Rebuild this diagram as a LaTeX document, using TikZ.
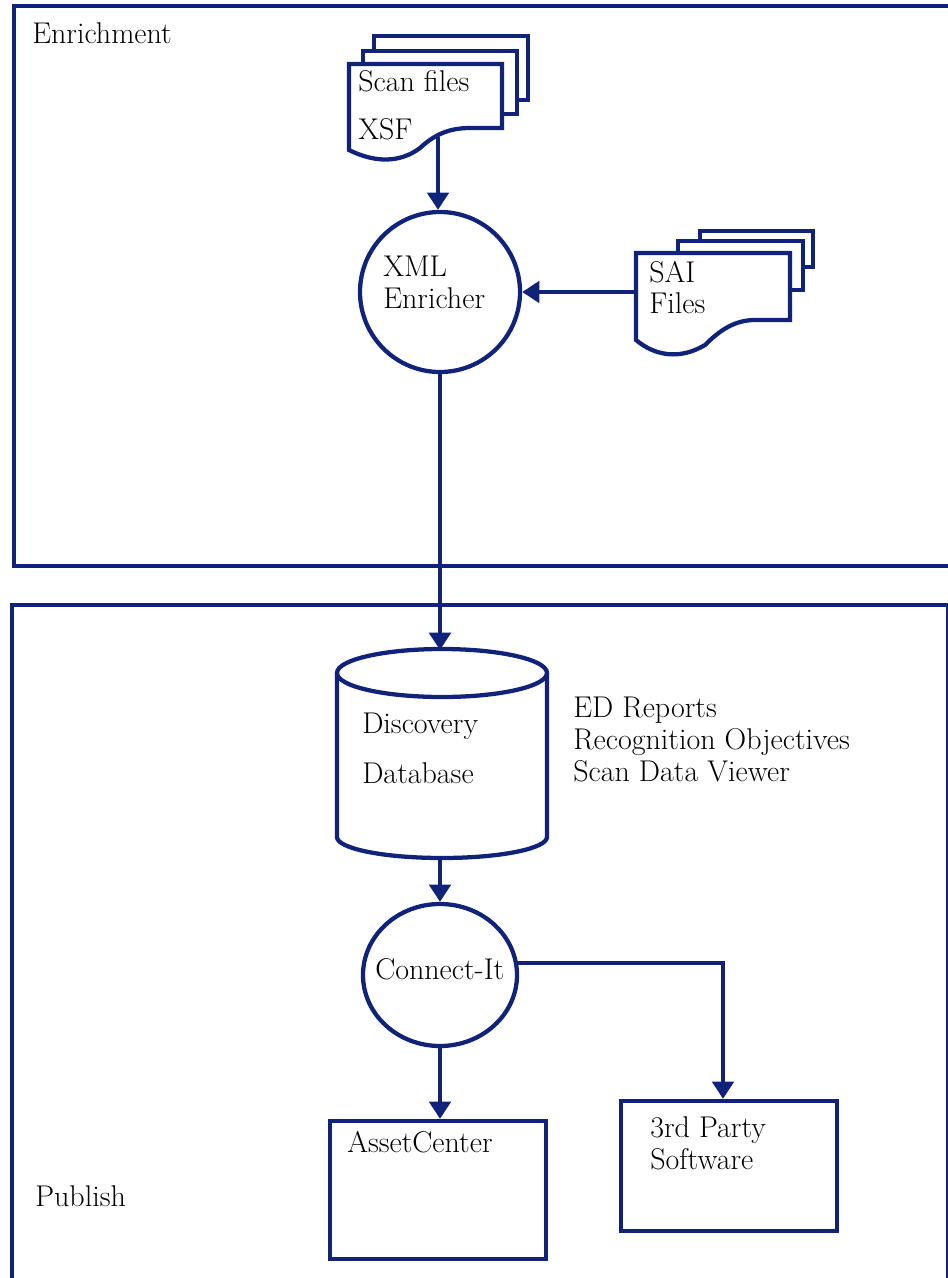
\documentclass[tikz,border=0pt]{standalone}
\usetikzlibrary{arrows.meta,shapes.geometric}
\definecolor{navy}{RGB}{16,34,122}
\begin{document}
\begin{tikzpicture}[x=0.75pt,y=-0.75pt,
  ln/.style={draw=navy,line width=3.2pt,line join=miter},
  thin/.style={draw=navy,line width=1pt},
  arr/.style={ln,-{Triangle[width=16pt,length=13pt]}},
  txt/.style={anchor=base west,inner sep=0pt,font=\fontsize{22.5}{27}\selectfont,text=black},
  circ/.style={ln,ellipse,fill=white,inner sep=0pt},
  box/.style={ln,rectangle,fill=white,inner sep=0pt}]
\useasboundingbox (0,0) rectangle (948,1278);
% frames
\draw[ln] (948,6) -| (14,566) -- (948,566);
\draw[ln] (948,605) -- (12,605) -- (12,1278);
\draw[thin] (947,605) -- (947,1278);
\node[txt] (enr) at (32,43) {Enrichment};
\node[txt] (pub) at (35,1206) {Publish};
% scan files stack
\draw[ln,fill=white] (374,36) rectangle (528,100);
\draw[ln,fill=white] (363,51) rectangle (517,114);
\draw[ln,fill=white] (349,64) -- (502,64) -- (502,128) -- (470,128)
  .. controls (450,128) and (435,134) .. (420,148)
  .. controls (400,163) and (375,163) .. (349,150) -- cycle;
\coordinate (scanbot) at (438,137);
\node[txt] (scan1) at (358,91) {Scan files};
\node[txt] (scan2) at (358,139) {XSF};
% SAI files stack
\draw[ln,fill=white] (700,231) rectangle (813,267);
\draw[ln,fill=white] (678,241) rectangle (803,290);
\draw[ln,fill=white] (636,253) -- (790,253) -- (790,320) -- (755,320)
  .. controls (735,320) and (720,330) .. (705,345)
  .. controls (680,360) and (655,356) .. (636,340) -- cycle;
\coordinate (saileft) at (636,292);
\node[txt] (sai1) at (649,282) {SAI};
\node[txt] (sai2) at (649,313) {Files};
% XML Enricher
\node[circ,minimum width=120pt,minimum height=120pt] (xml) at (440,292) {};
\node[txt] (xml1) at (383,276) {XML};
\node[txt] (xml2) at (383,308) {Enricher};
% Discovery database cylinder
\coordinate (dbtop) at (440,650);
\coordinate (dbbot) at (440,858);
\draw[ln,fill=white] (337,673) -- (337,837)
  arc[start angle=180,end angle=360,x radius=78.75pt,y radius=15.75pt]
  -- (547,673);
\draw[ln] (442,673) ellipse [x radius=78.75pt,y radius=18pt];
\node[txt] (db1) at (362,733) {Discovery};
\node[txt] (db2) at (362,783) {Database};
\node[txt] (ed1) at (573,717) {ED Reports};
\node[txt] (ed2) at (573,749) {Recognition Objectives};
\node[txt] (ed3) at (573,781) {Scan Data Viewer};
% Connect-It
\node[circ,minimum width=115.5pt,minimum height=106.5pt] (conn) at (440,975) {};
\node[txt] (conn1) at (375,979) {Connect-It};
% targets
\node[box,minimum width=162pt,minimum height=103.5pt] (ac) at (438,1190) {};
\node[txt] (ac1) at (347,1152) {AssetCenter};
\node[box,minimum width=162pt,minimum height=97.5pt] (tp) at (729,1166) {};
\node[txt] (tp1) at (650,1137) {3rd Party};
\node[txt] (tp2) at (650,1169) {Software};
% connectors
\draw[arr] (scanbot) -- (scanbot |- xml.north);
\draw[arr] (saileft) -- (xml.east);
\draw[arr] (xml.south) -- (dbtop);
\draw[arr] (dbbot) -- (conn.north);
\draw[arr] (conn.9) -| ([xshift=-4.5pt]tp.north);
\draw[arr] (conn.south) -- (conn.south |- ac.north);
\end{tikzpicture}
\end{document}
